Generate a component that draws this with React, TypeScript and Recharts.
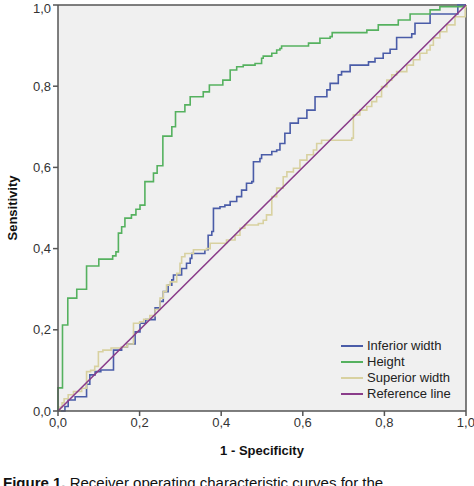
import { LineChart, Line, XAxis, YAxis, CartesianGrid, ReferenceLine } from "recharts";

// ROC curves: [1 - specificity, sensitivity]
const inferiorWidth = [
  [0, 0], [0.017, 0.011], [0.025, 0.027], [0.042, 0.035], [0.07, 0.066], [0.078, 0.089],
  [0.091, 0.097], [0.105, 0.101], [0.136, 0.15], [0.156, 0.158], [0.17, 0.165], [0.189, 0.195],
  [0.201, 0.216], [0.215, 0.225], [0.238, 0.254], [0.25, 0.27], [0.258, 0.294], [0.27, 0.31],
  [0.279, 0.323], [0.283, 0.335], [0.303, 0.351], [0.315, 0.364], [0.324, 0.376], [0.328, 0.388],
  [0.36, 0.397], [0.368, 0.433], [0.377, 0.442], [0.381, 0.499], [0.397, 0.503], [0.409, 0.507],
  [0.422, 0.516], [0.438, 0.528], [0.45, 0.544], [0.462, 0.561], [0.475, 0.565], [0.479, 0.614],
  [0.495, 0.622], [0.499, 0.631], [0.524, 0.639], [0.536, 0.643], [0.544, 0.659], [0.556, 0.684],
  [0.569, 0.709], [0.589, 0.721], [0.61, 0.741], [0.63, 0.774], [0.659, 0.791], [0.667, 0.807],
  [0.687, 0.828], [0.695, 0.836], [0.716, 0.852], [0.761, 0.86], [0.777, 0.869], [0.797, 0.881],
  [0.814, 0.891], [0.83, 0.92], [0.867, 0.929], [0.875, 0.955], [0.912, 0.978], [0.98, 1], [1, 1],
];

const height = [
  [0, 0], [0, 0.057], [0.011, 0.212], [0.024, 0.278], [0.046, 0.3], [0.07, 0.357], [0.1, 0.374],
  [0.134, 0.382], [0.142, 0.392], [0.148, 0.438], [0.156, 0.454], [0.164, 0.475], [0.18, 0.483],
  [0.191, 0.497], [0.201, 0.507], [0.213, 0.565], [0.234, 0.586], [0.243, 0.604], [0.257, 0.677],
  [0.279, 0.7], [0.288, 0.737], [0.311, 0.754], [0.324, 0.774], [0.356, 0.786], [0.371, 0.803],
  [0.404, 0.815], [0.422, 0.84], [0.438, 0.848], [0.454, 0.852], [0.483, 0.856], [0.499, 0.869],
  [0.503, 0.874], [0.524, 0.881], [0.536, 0.889], [0.544, 0.893], [0.548, 0.899], [0.614, 0.906],
  [0.642, 0.918], [0.667, 0.922], [0.672, 0.932], [0.757, 0.938], [0.785, 0.951], [0.834, 0.963],
  [0.863, 0.978], [0.912, 0.988], [0.936, 0.996], [1, 1],
];

const superiorWidth = [
  [0, 0], [0.005, 0.01], [0.01, 0.02], [0.015, 0.03], [0.025, 0.04], [0.038, 0.048], [0.058, 0.056],
  [0.07, 0.097], [0.08, 0.1], [0.09, 0.11], [0.099, 0.146], [0.11, 0.15], [0.13, 0.155],
  [0.156, 0.158], [0.17, 0.165], [0.185, 0.216], [0.2, 0.22], [0.21, 0.226], [0.225, 0.235],
  [0.238, 0.25], [0.25, 0.278], [0.258, 0.294], [0.266, 0.31], [0.275, 0.318], [0.291, 0.339],
  [0.299, 0.364], [0.303, 0.38], [0.311, 0.388], [0.332, 0.397], [0.364, 0.4], [0.373, 0.413],
  [0.413, 0.421], [0.434, 0.433], [0.446, 0.45], [0.458, 0.458], [0.491, 0.462], [0.503, 0.47],
  [0.511, 0.483], [0.524, 0.491], [0.524, 0.528], [0.536, 0.549], [0.552, 0.577], [0.561, 0.589],
  [0.577, 0.598], [0.593, 0.618], [0.61, 0.631], [0.626, 0.643], [0.634, 0.659], [0.646, 0.667],
  [0.72, 0.672], [0.724, 0.729], [0.74, 0.741], [0.757, 0.75], [0.769, 0.762], [0.781, 0.774],
  [0.793, 0.799], [0.806, 0.815], [0.818, 0.828], [0.83, 0.836], [0.855, 0.852], [0.871, 0.865],
  [0.887, 0.881], [0.904, 0.889], [0.912, 0.901], [0.92, 0.919], [0.936, 0.934], [0.953, 0.951],
  [0.973, 0.971], [0.998, 0.996], [1, 1],
];

const referenceLine = [[0, 0], [1, 1]];

const ticks = [0, 0.2, 0.4, 0.6, 0.8, 1];

const toPoints = (arr: number[][]) => arr.map(([x, y]) => ({ x, y }));

const series = [
  { name: "Inferior width", color: "#4a5ca8", data: toPoints(inferiorWidth), step: true },
  { name: "Height", color: "#55b15f", data: toPoints(height), step: true },
  { name: "Superior width", color: "#d8d1a0", data: toPoints(superiorWidth), step: true },
  { name: "Reference line", color: "#8a3c8a", data: toPoints(referenceLine), step: false },
];

const fmt = (v: number) => v.toFixed(1).replace(".", ",");
const font = "Arial, 'Liberation Sans', sans-serif";
const axisColor = "#555";

function LegendBox() {
  return (
    <div style={{ position: "absolute", left: 341, top: 338, fontFamily: font, fontSize: 13, lineHeight: "16px", color: "#222" }}>
      {series.map((s) => (
        <div key={s.name} style={{ display: "flex", alignItems: "center", height: 16 }}>
          <span style={{ display: "inline-block", width: 22, height: 0, borderTop: `2px solid ${s.color}`, marginRight: 4 }} />
          {s.name}
        </div>
      ))}
    </div>
  );
}

export default function App() {
  return (
    <div style={{ position: "absolute", left: 0, top: 0, width: 474, height: 486, overflow: "hidden", background: "#fff" }}>
      <LineChart width={474} height={486} margin={{ top: 5, right: 8, bottom: 25, left: 10 }}>
        <CartesianGrid horizontal={false} vertical={false} fill="#f0f0f0" />
        <XAxis
          type="number"
          dataKey="x"
          domain={[0, 1]}
          ticks={ticks}
          tickFormatter={fmt}
          height={50}
          stroke={axisColor}
          strokeWidth={1.5}
          tickSize={5}
          tick={{ fontSize: 13, fill: "#333", fontFamily: font }}
          label={{ value: "1 - Specificity", position: "insideBottom", offset: 6, style: { fontSize: 13, fontWeight: "bold", fill: "#111", fontFamily: font } }}
        />
        <YAxis
          type="number"
          dataKey="y"
          domain={[0, 1]}
          ticks={ticks}
          tickFormatter={fmt}
          width={48}
          stroke={axisColor}
          strokeWidth={1.5}
          tickSize={5}
          tick={{ fontSize: 13, fill: "#333", fontFamily: font }}
          label={{ value: "Sensitivity", angle: -90, position: "insideLeft", offset: 2, style: { fontSize: 13, fontWeight: "bold", fill: "#111", fontFamily: font, textAnchor: "middle" } }}
        />
        <ReferenceLine y={1} stroke={axisColor} strokeWidth={1.5} />
        <ReferenceLine x={1} stroke={axisColor} strokeWidth={1.5} />
        {series.map((s) => (
          <Line
            key={s.name}
            data={s.data}
            dataKey="y"
            name={s.name}
            type={s.step ? "stepAfter" : "linear"}
            stroke={s.color}
            strokeWidth={1.6}
            dot={false}
            activeDot={false}
            isAnimationActive={false}
          />
        ))}
      </LineChart>
      <LegendBox />
      <div style={{ position: "absolute", left: 3, top: 474, fontFamily: font, fontSize: 15, color: "#111", whiteSpace: "nowrap" }}>
        <b>Figure 1.</b> Receiver operating characteristic curves for the
      </div>
    </div>
  );
}
